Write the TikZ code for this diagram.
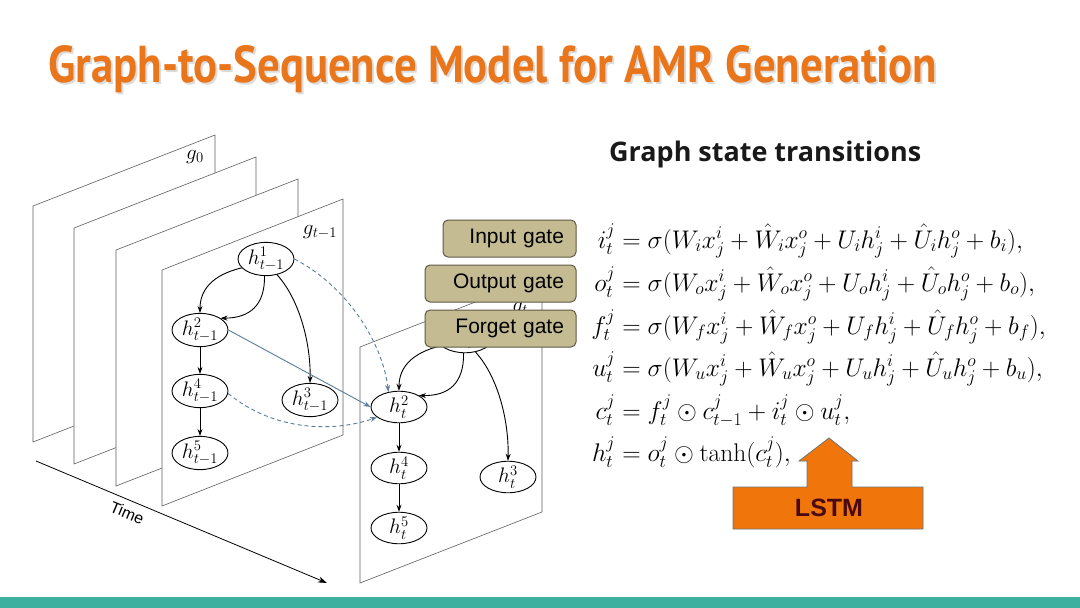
\documentclass[tikz,border=0pt]{standalone}
\usepackage{fix-cm}
\usepackage{amsmath}
\usepackage{graphicx}
\usepackage{fontspec}
\newfontfamily\ptsans{PT Sans}
\newfontfamily\opensans{Open Sans}
\newfontfamily\arialf{Liberation Sans}
\usetikzlibrary{arrows.meta,shapes.geometric}
\definecolor{titleor}{RGB}{234,118,28}
\definecolor{gatefill}{RGB}{196,187,146}
\definecolor{gatedraw}{RGB}{95,90,70}
\definecolor{crossc}{RGB}{90,125,155}
\definecolor{lstmor}{RGB}{240,118,12}
\definecolor{lstmtxt}{RGB}{75,10,18}
\definecolor{barteal}{RGB}{62,176,160}
\definecolor{panelc}{RGB}{95,95,95}
\tikzset{
  panel/.style={draw=panelc, line width=0.6pt, fill=white},
  hnode/.style={ellipse, draw, line width=0.9pt, minimum width=56pt, minimum height=28pt, inner sep=0pt, fill=white, font=\fontsize{21}{21}\selectfont},
  gedge/.style={-{Stealth[length=7pt,width=5pt]}, line width=0.9pt},
  cross/.style={gedge, draw=crossc, line width=0.9pt},
  dashcross/.style={cross, dash pattern=on 4pt off 3pt},
  gate/.style={rounded corners=5pt, draw=gatedraw, fill=gatefill, line width=1pt, minimum height=37pt, inner xsep=12pt, align=right, font=\arialf\fontsize{21}{21}\selectfont},
  eqline/.style={anchor=base west, inner sep=0pt, font=\fontsize{25.5}{26}\selectfont},
  glabel/.style={font=\fontsize{21}{21}\selectfont, inner sep=0pt}
}
\newcommand\lhs[1]{\makebox[31pt][r]{$#1$}}
\begin{document}
\begin{tikzpicture}[x=1pt,y=-1pt]
\useasboundingbox (0,0) rectangle (1080,608);
\fill[white] (0,0) rectangle (1080,608);
% bottom bar
\fill[barteal] (0,597) rectangle (1080,608);
% title
\node[anchor=base west, inner sep=0pt, text=black!30, opacity=0.45] (titleshadow) at (50,84) {\resizebox{889pt}{37pt}{\ptsans\bfseries Graph-to-Sequence Model for AMR Generation}};
\node[anchor=base west, inner sep=0pt, text=titleor] (title) at (48,82) {\resizebox{889pt}{37pt}{\ptsans\bfseries Graph-to-Sequence Model for AMR Generation}};
% heading
\node[anchor=base west, inner sep=0pt, text=black!90] (heading) at (609,161) {\resizebox{312pt}{!}{\opensans\bfseries\fontsize{20}{20}\selectfont Graph state transitions}};
% panels
\draw[panel] (33,206) -- (215,135) -- (215,371) -- (33,442) -- cycle;
\draw[panel] (74,228) -- (256,157) -- (256,393) -- (74,464) -- cycle;
\draw[panel] (116,250) -- (298,179) -- (298,415) -- (116,486) -- cycle;
\draw[panel] (162,270) -- (343,199) -- (343,435) -- (162,506) -- cycle;
\node[glabel] (g0) at (195,157) {$g_0$};
\node[glabel] (gt1) at (320,232) {$g_{t-1}$};
% time axis
\coordinate (ts) at (36,461);
\coordinate (te) at (327,583);
\draw[-{Stealth[length=9pt,width=6pt]}, line width=0.8pt] (ts) -- (te) node[pos=0.33, below=3pt, sloped, font=\arialf\fontsize{16}{16}\selectfont] (timelab) {Time};
% panel t
\draw[panel] (360,347) -- (542,276) -- (542,512) -- (360,583) -- cycle;
\node[glabel] (gt) at (520,309) {$g_t$};
% graph t-1
\node[hnode] (a1) at (266,259) {$h^1_{t-1}$};
\node[hnode] (a2) at (200,330) {$h^2_{t-1}$};
\node[hnode] (a3) at (310,400) {$h^3_{t-1}$};
\node[hnode] (a4) at (200,391) {$h^4_{t-1}$};
\node[hnode] (a5) at (200,453) {$h^5_{t-1}$};
\draw[gedge] (a1.200) .. controls (212,275) and (200,290) .. (a2.north);
\draw[gedge] (a1.265) .. controls (265,305) and (250,318) .. (a2.30);
\draw[gedge] (a1.-55) .. controls (300,300) and (311,345) .. (a3.north);
\draw[gedge] (a2) -- (a4);
\draw[gedge] (a4) -- (a5);
% graph t
\node[hnode] (b1) at (465,337) {$h^1_t$};
\node[hnode] (b2) at (399,407) {$h^2_t$};
\node[hnode] (b3) at (508,477) {$h^3_t$};
\node[hnode] (b4) at (399,468) {$h^4_t$};
\node[hnode] (b5) at (399,528) {$h^5_t$};
\draw[gedge] (b1.200) .. controls (411,353) and (399,368) .. (b2.north);
\draw[gedge] (b1.265) .. controls (464,383) and (449,396) .. (b2.30);
\draw[gedge] (b1.-55) .. controls (499,378) and (509,423) .. (b3.north);
\draw[gedge] (b2) -- (b4);
\draw[gedge] (b4) -- (b5);
% cross edges
\draw[dashcross] (a1.east) .. controls (345,285) and (382,340) .. (b2.125);
\draw[cross] (a2.east) -- (b2.west);
\draw[dashcross] (a4.-5) .. controls (275,432) and (335,432) .. (b2.205);
% gates
\node[gate, text width=109pt] (ig) at (509.5,238.5) {Input gate};
\node[gate, text width=127pt] (og) at (500.5,283.5) {Output gate};
\node[gate, text width=127pt] (fg) at (500.5,328.5) {Forget gate};
% equations
\node[eqline] (e1) at (584,248) {$\lhs{i^j_t} = \sigma(W_i x^i_j + \hat{W}_i x^o_j + U_i h^i_j + \hat{U}_i h^o_j + b_i),$};
\node[eqline] (e2) at (584,291) {$\lhs{o^j_t} = \sigma(W_o x^i_j + \hat{W}_o x^o_j + U_o h^i_j + \hat{U}_o h^o_j + b_o),$};
\node[eqline] (e3) at (584,334) {$\lhs{f^j_t} = \sigma(W_f x^i_j + \hat{W}_f x^o_j + U_f h^i_j + \hat{U}_f h^o_j + b_f),$};
\node[eqline] (e4) at (584,376) {$\lhs{u^j_t} = \sigma(W_u x^i_j + \hat{W}_u x^o_j + U_u h^i_j + \hat{U}_u h^o_j + b_u),$};
\node[eqline] (e5) at (584,419) {$\lhs{c^j_t} = f^j_t \odot c^j_{t-1} + i^j_t \odot u^j_t,$};
\node[eqline] (e6) at (584,461) {$\lhs{h^j_t} = o^j_t \odot \tanh(c^j_t),$};
% LSTM block arrow
\draw[fill=lstmor, draw=black!55, line width=0.8pt] (733,487) -- (807,487) -- (807,461) -- (799,461) -- (829,438) -- (858,461) -- (852,461) -- (852,487) -- (923,487) -- (923,529) -- (733,529) -- cycle;
\node[text=lstmtxt, font=\arialf\bfseries\fontsize{25}{25}\selectfont, inner sep=0pt] (lstm) at (829,508) {LSTM};
\end{tikzpicture}
\end{document}
